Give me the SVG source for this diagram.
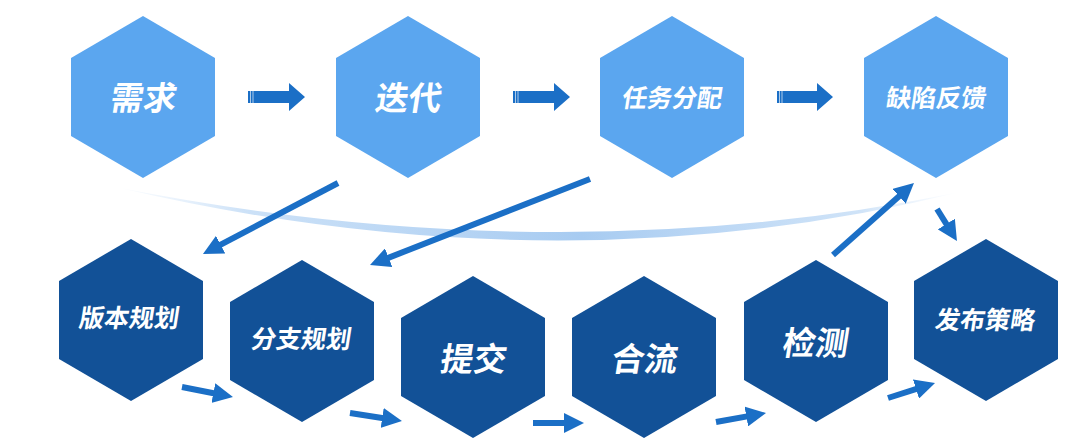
<svg xmlns="http://www.w3.org/2000/svg" width="1080" height="444" viewBox="0 0 1080 444">
  <style>
    .top { fill: #5ba6ef; }
    .bot { fill: #125197; }
    .lbl { fill: #ffffff; font-family: "Noto Sans CJK SC", "Noto Sans", sans-serif; font-weight: 700; text-anchor: middle; }
    .big { font-size: 33px; }
    .small { font-size: 25px; }
    .conn { stroke: #1b6fc6; stroke-width: 6; fill: none; marker-end: url(#head); }
    .block { fill: #1b6fc6; }
    .gap { fill: #ffffff; opacity: 0.8; }
  </style>
  <defs>
    <polygon id="hex" points="0,-81 72,-39 72,39 0,81 -72,39 -72,-39"/>
    <marker id="head" markerUnits="userSpaceOnUse" markerWidth="20" markerHeight="20" refX="8" refY="10" orient="auto" viewBox="0 0 20 20">
      <path d="M0,0 L20,10 L0,20 Z" fill="#1b6fc6"/>
    </marker>
    <linearGradient id="swoosh" x1="120" y1="0" x2="960" y2="0" gradientUnits="userSpaceOnUse">
      <stop offset="0" stop-color="#d6e7fa" stop-opacity="0.1"/>
      <stop offset="0.15" stop-color="#c3dcf6" stop-opacity="0.85"/>
      <stop offset="0.55" stop-color="#a7cbf1" stop-opacity="1"/>
      <stop offset="0.88" stop-color="#c3dcf6" stop-opacity="0.8"/>
      <stop offset="1" stop-color="#d6e7fa" stop-opacity="0"/>
    </linearGradient>
  </defs>
  <rect x="0" y="0" width="1080" height="444" fill="#ffffff"/>

  <path d="M120,188 Q560,274 960,192 Q560,291 120,188 Z" fill="url(#swoosh)"/>

  <g id="node-xuqiu"><use href="#hex" x="143" y="97" class="top"/><text transform="translate(142,110) skewX(-9)" class="lbl big">需求</text></g>
  <g id="node-diedai"><use href="#hex" x="408" y="97" class="top"/><text transform="translate(407,110) skewX(-9)" class="lbl big">迭代</text></g>
  <g id="node-renwu"><use href="#hex" x="672" y="97" class="top"/><text transform="translate(671,107) skewX(-9)" class="lbl small">任务分配</text></g>
  <g id="node-quexian"><use href="#hex" x="936" y="97" class="top"/><text transform="translate(935,107) skewX(-9)" class="lbl small">缺陷反馈</text></g>

  <g id="node-banben"><use href="#hex" x="131" y="320" class="bot"/><text transform="translate(128,327) skewX(-9)" class="lbl small">版本规划</text></g>
  <g id="node-fenzhi"><use href="#hex" x="302" y="341" class="bot"/><text transform="translate(300,348) skewX(-9)" class="lbl small">分支规划</text></g>
  <g id="node-tijiao"><use href="#hex" x="473" y="357" class="bot"/><text transform="translate(472,371) skewX(-9)" class="lbl big">提交</text></g>
  <g id="node-heliu"><use href="#hex" x="644" y="357" class="bot"/><text transform="translate(643,371) skewX(-9)" class="lbl big">合流</text></g>
  <g id="node-jiance"><use href="#hex" x="816" y="341" class="bot"/><text transform="translate(814,355) skewX(-9)" class="lbl big">检测</text></g>
  <g id="node-fabu"><use href="#hex" x="986" y="320" class="bot"/><text transform="translate(984,329) skewX(-9)" class="lbl small">发布策略</text></g>

  <g id="connectors">
    <path class="block" d="M248,91 H289 V83 L305,97 L289,111 V103 H248 Z"/>
    <rect class="gap" x="250.2" y="91" width="0.8" height="12"/>
    <rect class="gap" x="252.6" y="91" width="0.8" height="12"/>
    <path class="block" d="M513,91 H554 V83 L570,97 L554,111 V103 H513 Z"/>
    <rect class="gap" x="515.2" y="91" width="0.8" height="12"/>
    <rect class="gap" x="517.6" y="91" width="0.8" height="12"/>
    <path class="block" d="M777,91 H817 V83 L833,97 L817,111 V103 H777 Z"/>
    <rect class="gap" x="779.2" y="91" width="0.8" height="12"/>
    <rect class="gap" x="781.6" y="91" width="0.8" height="12"/>

    <line class="conn" x1="338" y1="183" x2="213.6" y2="248.4"/>
    <line class="conn" x1="590" y1="179" x2="381.2" y2="260.6"/>
    <line class="conn" x1="833" y1="255" x2="905" y2="191"/>
    <line class="conn" x1="937" y1="209" x2="950.6" y2="230.8"/>

    <line class="conn" x1="182" y1="387" x2="221.2" y2="394.7"/>
    <line class="conn" x1="350" y1="413" x2="390.1" y2="419.2"/>
    <line class="conn" x1="533" y1="423" x2="572" y2="423"/>
    <line class="conn" x1="716" y1="422" x2="754.2" y2="415.1"/>
    <line class="conn" x1="888" y1="398" x2="923.6" y2="386.6"/>
  </g>
</svg>
